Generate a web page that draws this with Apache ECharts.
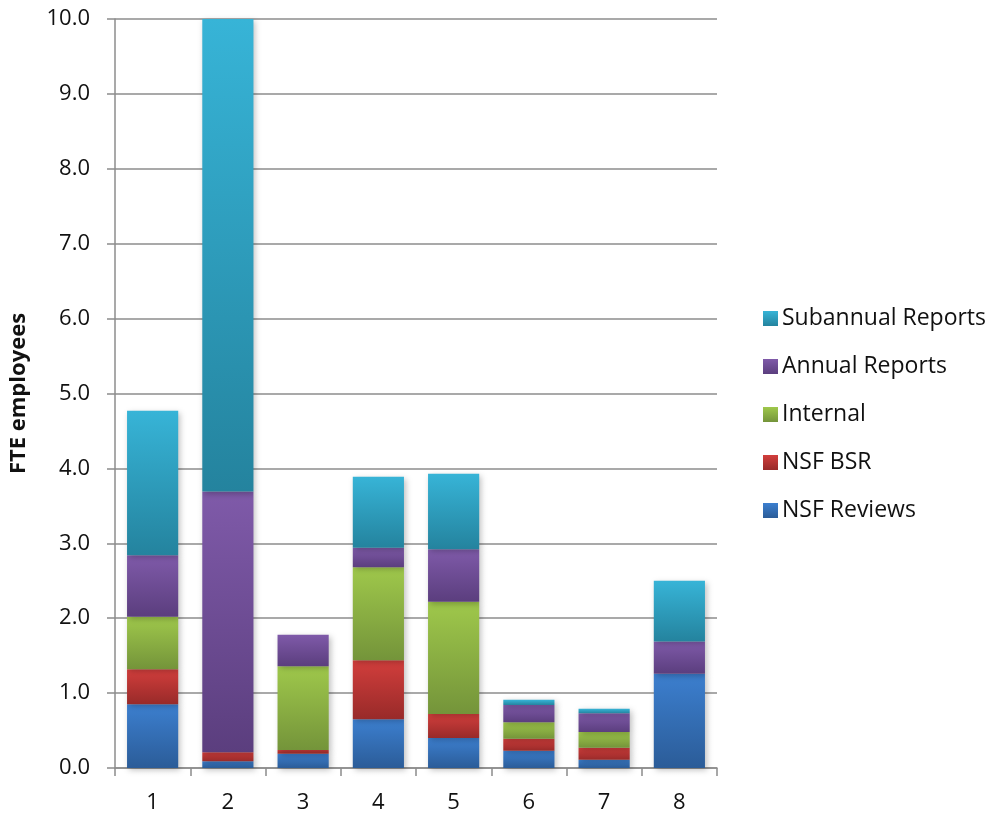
<!DOCTYPE html>
<html>
<head>
<meta charset="utf-8">
<script src="https://cdn.jsdelivr.net/npm/echarts@6/dist/echarts.min.js"></script>
<style>
  html, body { margin: 0; padding: 0; background: #fff; }
  #chart { width: 986px; height: 815px; }
</style>
</head>
<body>
<div id="chart"></div>
<script>
// Categories along the x axis
var categories = ['1', '2', '3', '4', '5', '6', '7', '8'];

// FTE per activity, stacked bottom to top
var nsfReviews  = [0.85, 0.09, 0.19, 0.65, 0.40, 0.23, 0.11, 1.26];
var nsfBsr      = [0.47, 0.12, 0.05, 0.79, 0.32, 0.16, 0.16, 0.00];
var internal    = [0.70, 0.00, 1.12, 1.24, 1.50, 0.22, 0.21, 0.00];
var annual      = [0.82, 3.48, 0.42, 0.26, 0.70, 0.23, 0.25, 0.43];
var subannual   = [1.93, 6.31, 0.00, 0.95, 1.01, 0.07, 0.06, 0.81];

var seriesNames = ['NSF Reviews', 'NSF BSR', 'Internal', 'Annual Reports', 'Subannual Reports'];
var seriesData  = [nsfReviews, nsfBsr, internal, annual, subannual];
var legendOrder = ['Subannual Reports', 'Annual Reports', 'Internal', 'NSF BSR', 'NSF Reviews'];

// Top / bottom gradient colours per series
var palette = [
  ['#3c7fcf', '#2b5c98'],
  ['#d23e3c', '#982a29'],
  ['#9fc84b', '#74943a'],
  ['#7f5aa9', '#5b3e7e'],
  ['#37b4d7', '#24839e']
];

function grad(c) {
  return new echarts.graphic.LinearGradient(0, 0, 0, 1, [
    { offset: 0, color: c[0] },
    { offset: 1, color: c[1] }
  ]);
}

var chart = echarts.init(document.getElementById('chart'));

var series = seriesNames.map(function (name, i) {
  return {
    name: name,
    type: 'bar',
    stack: 'fte',
    barWidth: '68%',
    data: seriesData[i],
    itemStyle: {
      color: grad(palette[i]),
      shadowColor: 'rgba(0,0,0,0.25)',
      shadowBlur: 6,
      shadowOffsetX: 2,
      shadowOffsetY: 2
    }
  };
});

chart.setOption({
  animation: false,
  backgroundColor: '#ffffff',
  textStyle: { fontFamily: 'Open Sans, Liberation Sans, sans-serif' },
  grid: {
    left: 115, top: 19, width: 602, height: 749,
    containLabel: false,
    outerBoundsMode: 'none'
  },
  legend: {
    orient: 'vertical',
    left: 758,
    top: 302,
    itemWidth: 15,
    itemHeight: 15,
    itemGap: 25,
    icon: 'rect',
    data: legendOrder,
    textStyle: { fontSize: 23, color: '#111', fontFamily: 'Open Sans, sans-serif', padding: [0, 0, 0, -1] }
  },
  xAxis: {
    type: 'category',
    data: categories,
    axisLine: { lineStyle: { color: '#8c8c8c', width: 1.5 } },
    axisTick: { show: true, length: 8, lineStyle: { color: '#8c8c8c', width: 1.5 } },
    axisLabel: { fontSize: 22, color: '#111', margin: 24 }
  },
  yAxis: {
    type: 'value',
    min: 0,
    max: 10,
    interval: 1,
    name: 'FTE employees',
    nameLocation: 'middle',
    nameGap: 85,
    nameRotate: 90,
    nameTextStyle: { fontSize: 22, fontWeight: 'bold', color: '#111' },
    axisLine: { show: true, lineStyle: { color: '#8c8c8c', width: 1.5 } },
    axisTick: { show: true, length: 8, lineStyle: { color: '#8c8c8c', width: 1.5 } },
    splitLine: { lineStyle: { color: '#8c8c8c', width: 1.5 } },
    axisLabel: {
      fontSize: 22,
      color: '#111',
      margin: 25,
      formatter: function (v) { return v.toFixed(1); }
    }
  },
  series: series
});
</script>
</body>
</html>
